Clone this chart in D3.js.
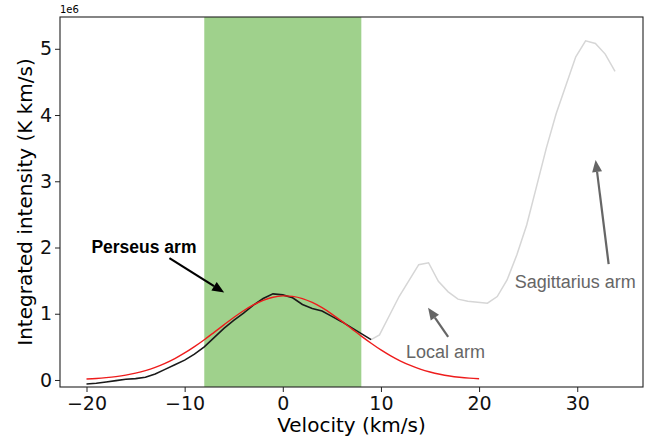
<!DOCTYPE html>
<html>
<head>
<script src="https://cdnjs.cloudflare.com/ajax/libs/d3/7.8.5/d3.min.js"></script>
<style>
  body { margin: 0; background: #fff; }
  text { font-family: "DejaVu Sans", sans-serif; }
  .ann { font-family: "Liberation Sans", Arial, sans-serif; }
</style>
</head>
<body>
<svg id="chart" width="659" height="439"></svg>
<script>
// velocity (km/s) and integrated intensity (units of 1e6 K km/s)
var perseusV = [-20,-19,-18,-17,-16,-15,-14,-13,-12,-11,-10,-9,-8,-7,-6,-5,-4,-3,-2,-1,0,1,2,3,4,5,6,7,8,9];
var perseusI = [-0.06,-0.05,-0.03,-0.01,0.01,0.02,0.04,0.09,0.16,0.23,0.30,0.39,0.50,0.64,0.78,0.90,1.01,1.13,1.23,1.30,1.285,1.24,1.14,1.08,1.04,0.96,0.88,0.79,0.70,0.61];

var restV = [9,9.85,10.85,11.85,12.85,13.85,14.85,15.85,16.85,17.85,18.85,19.85,20.85,21.85,22.85,23.85,24.85,25.85,26.85,27.85,28.85,29.85,30.85,31.85,32.85,33.85];
var restI = [0.61,0.68,0.97,1.26,1.50,1.74,1.77,1.49,1.33,1.22,1.19,1.175,1.16,1.26,1.51,1.89,2.34,2.92,3.50,4.02,4.45,4.88,5.12,5.08,4.92,4.66];

var fitV = [-20,-19,-18,-17,-16,-15,-14,-13,-12,-11,-10,-9,-8,-7,-6,-5,-4,-3,-2,-1,0,1,2,3,4,5,6,7,8,9,10,11,12,13,14,15,16,17,18,19,20];
var fitI = [0.015,0.023,0.035,0.051,0.073,0.103,0.141,0.190,0.251,0.323,0.408,0.504,0.608,0.719,0.832,0.943,1.045,1.133,1.202,1.249,1.269,1.262,1.229,1.170,1.091,0.995,0.888,0.776,0.663,0.555,0.454,0.364,0.285,0.219,0.164,0.121,0.087,0.061,0.042,0.028,0.019];

var band = [-8, 8];
var xTicks = [-20, -10, 0, 10, 20, 30];
var yTicks = [0, 1, 2, 3, 4, 5];

var svg = d3.select("#chart");
var pLeft = 60, pRight = 643, pTop = 17, pBottom = 387;

var x = d3.scaleLinear().domain([-22.7, 36.7]).range([pLeft, pRight]);
var y = d3.scaleLinear().domain([-0.106, 5.48]).range([pBottom, pTop]);

// shaded velocity range
svg.append("rect")
  .attr("x", x(band[0])).attr("y", pTop)
  .attr("width", x(band[1]) - x(band[0])).attr("height", pBottom - pTop)
  .attr("fill", "#9fd18c");

var line = d3.line().x(function(d) { return x(d[0]); }).y(function(d) { return y(d[1]); });

svg.append("path")
  .datum(restV.map(function(v, i) { return [v, restI[i]]; }))
  .attr("d", line).attr("fill", "none").attr("stroke", "#d6d6d6").attr("stroke-width", 1.5);

svg.append("path")
  .datum(perseusV.map(function(v, i) { return [v, perseusI[i]]; }))
  .attr("d", line).attr("fill", "none").attr("stroke", "#1a1a1a").attr("stroke-width", 1.6);

svg.append("path")
  .datum(fitV.map(function(v, i) { return [v, fitI[i]]; }))
  .attr("d", line.curve(d3.curveCatmullRom)).attr("fill", "none").attr("stroke", "#ee1c1c").attr("stroke-width", 1.4);

// frame
svg.append("rect")
  .attr("x", pLeft).attr("y", pTop).attr("width", pRight - pLeft).attr("height", pBottom - pTop)
  .attr("fill", "none").attr("stroke", "#222").attr("stroke-width", 1.1);

var xAxis = svg.append("g").attr("transform", "translate(0," + pBottom + ")")
  .call(d3.axisBottom(x).tickValues(xTicks).tickSize(5).tickPadding(5)
    .tickFormat(function(d) { return d < 0 ? "\u2212" + Math.abs(d) : d; }));
var yAxis = svg.append("g").attr("transform", "translate(" + pLeft + ",0)")
  .call(d3.axisLeft(y).tickValues(yTicks).tickSize(5).tickPadding(3).tickFormat(d3.format("d")));
[xAxis, yAxis].forEach(function(g) {
  g.select(".domain").remove();
  g.selectAll("line").attr("stroke", "#222");
  g.selectAll("text").attr("font-size", 19).attr("fill", "#111").attr("font-family", "DejaVu Sans");
});

svg.append("text").attr("x", pLeft).attr("y", 13).attr("font-size", 10).text("1e6");

svg.append("text").attr("x", (pLeft + pRight) / 2).attr("y", 432)
  .attr("text-anchor", "middle").attr("font-size", 20).text("Velocity (km/s)");
svg.append("text").attr("transform", "translate(32," + ((pTop + pBottom) / 2) + ") rotate(-90)")
  .attr("text-anchor", "middle").attr("font-size", 20).text("Integrated intensity (K km/s)");

// annotations: label, text position, arrow tail, arrow tip (data coords)
var notes = [
  { label: "Perseus arm", tx: -19.5, ty: 1.91, from: [-11.55, 1.84], to: [-5.97, 1.32], color: "#000", bold: true },
  { label: "Local arm", tx: 12.55, ty: 0.33, from: [16.85, 0.65], to: [14.8, 1.09], color: "#666", bold: false },
  { label: "Sagittarius arm", tx: 23.63, ty: 1.385, from: [33.2, 1.75], to: [31.87, 3.32], color: "#666", bold: false }
];

notes.forEach(function(n) {
  svg.append("text").attr("class", "ann")
    .attr("x", x(n.tx)).attr("y", y(n.ty))
    .attr("font-size", n.bold ? 17.5 : 18)
    .attr("font-weight", n.bold ? "bold" : "normal")
    .attr("fill", n.color).text(n.label);

  var x0 = x(n.from[0]), y0 = y(n.from[1]), x1 = x(n.to[0]), y1 = y(n.to[1]);
  var ang = Math.atan2(y1 - y0, x1 - x0);
  var hl = 12, hw = 5;
  var bx = x1 - hl * Math.cos(ang), by = y1 - hl * Math.sin(ang);
  svg.append("line")
    .attr("x1", x0).attr("y1", y0).attr("x2", bx).attr("y2", by)
    .attr("stroke", n.color).attr("stroke-width", 2.2);
  var px = -Math.sin(ang) * hw, py = Math.cos(ang) * hw;
  svg.append("path")
    .attr("d", "M" + x1 + "," + y1 + "L" + (bx + px) + "," + (by + py) + "L" + (bx - px) + "," + (by - py) + "Z")
    .attr("fill", n.color);
});
</script>
</body>
</html>
